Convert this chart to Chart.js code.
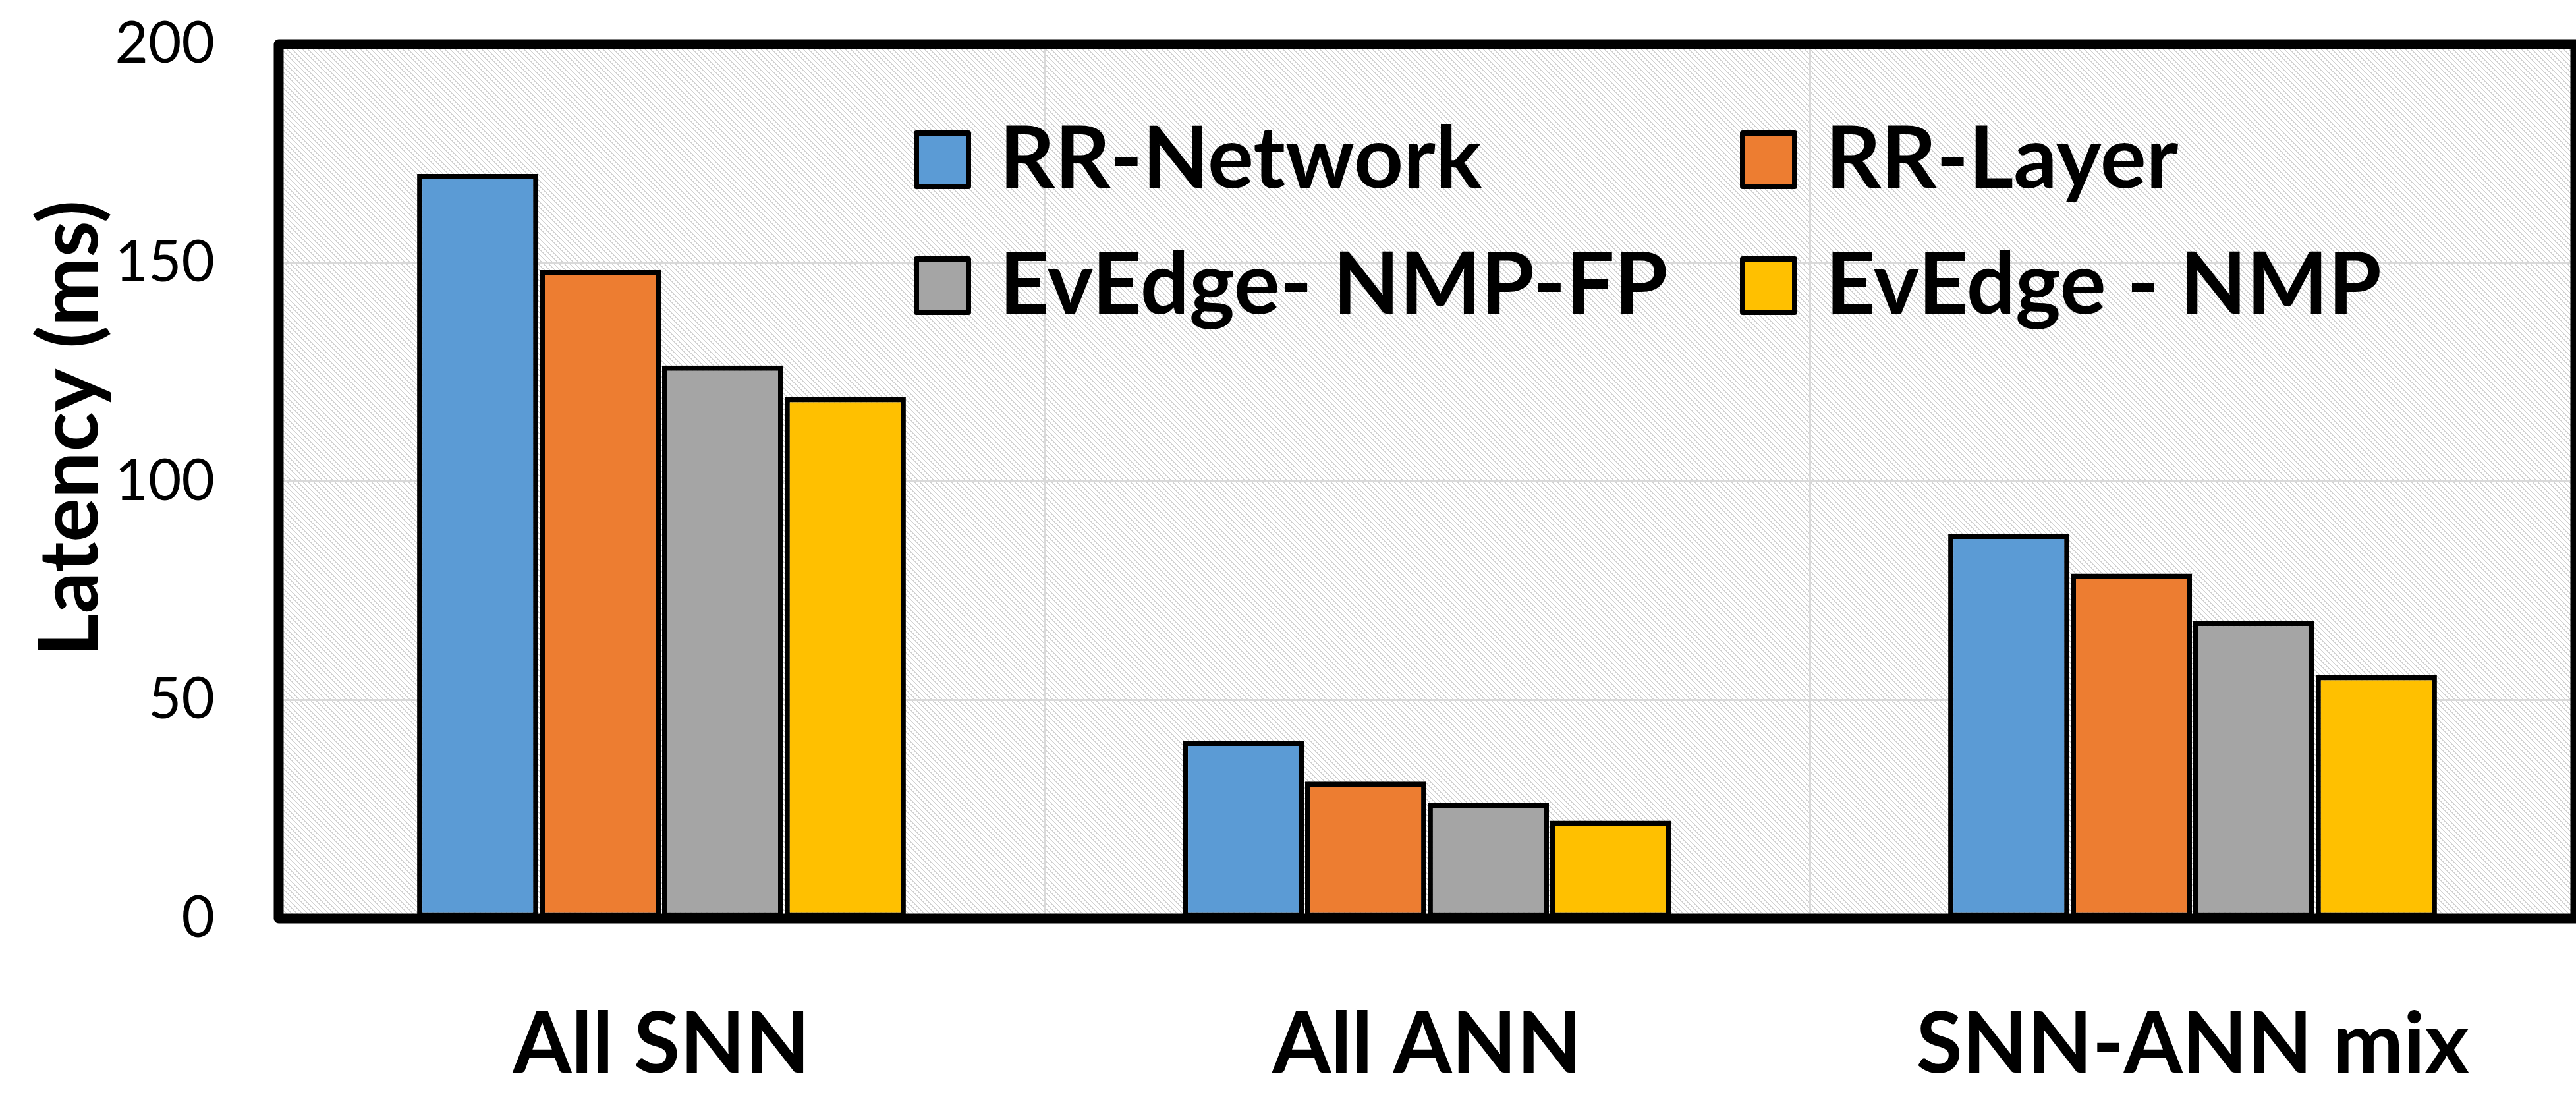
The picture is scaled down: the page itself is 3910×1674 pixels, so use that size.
<!DOCTYPE html>
<html><head><meta charset="utf-8">
<script src="https://cdn.jsdelivr.net/npm/chart.js@4.4.1/dist/chart.umd.min.js"></script>
<style>html,body{margin:0;padding:0;background:#fff;overflow:hidden}#wrap{width:3910px;height:1674px;position:relative}</style>
</head><body><div id="wrap"><canvas id="c" width="3910" height="1674"></canvas></div>
<script>
// ---- data ----
const categories = ['All SNN', 'All ANN', 'SNN-ANN mix'];
const seriesNames = ['RR-Network', 'RR-Layer', 'EvEdge- NMP-FP', 'EvEdge - NMP'];
const rrNetwork   = [170.3, 40.7, 88.0];
const rrLayer     = [148.3, 31.3, 78.9];
const evEdgeNmpFp = [126.5, 26.4, 68.1];
const evEdgeNmp   = [119.3, 22.4, 55.7];
const yTicks = [0, 50, 100, 150, 200];
const yAxisTitle = 'Latency (ms)';
const seriesColors = ['#5B9BD5', '#ED7D31', '#A5A5A5', '#FFC000'];

// ---- styling helpers ----
const FONT = 'Lato, "Open Sans", sans-serif';
function fitSize(text, weight, target) {
  const c = document.createElement('canvas').getContext('2d');
  c.font = weight + ' 100px ' + FONT;
  return 100 * target / c.measureText(text).width;
}
const catSize = Math.min(132, fitSize('SNN-ANN mix', 'bold', 839));
const legendSize = Math.min(132, fitSize('RR-Network', 'bold', 732));
const titleSize = Math.min(125, fitSize(yAxisTitle, 'bold', 704));
const tickSize = 87;

// hatch pattern (light downward diagonal)
const pc = document.createElement('canvas'); pc.width = 8; pc.height = 8;
const pctx = pc.getContext('2d');
pctx.fillStyle = '#ffffff'; pctx.fillRect(0, 0, 8, 8);
pctx.fillStyle = '#d2d2d2';
for (let y = 0; y < 8; y++) { for (let k = 0; k < 2; k++) pctx.fillRect((y + k) % 8, y, 1, 1); }

const values = [rrNetwork, rrLayer, evEdgeNmpFp, evEdgeNmp];
const datasets = seriesNames.map((name, i) => ({
  label: name,
  data: values[i],
  backgroundColor: seriesColors[i],
  borderColor: '#000000',
  borderWidth: 8,
  borderSkipped: false,
  categoryPercentage: 0.64,
  barPercentage: 0.99
}));

const decorPlugin = {
  id: 'decor',
  beforeDraw(chart) {
    const ctx = chart.ctx, a = chart.chartArea;
    ctx.save();
    ctx.fillStyle = '#ffffff';
    ctx.fillRect(0, 0, chart.width, chart.height);
    ctx.fillStyle = ctx.createPattern(pc, 'repeat');
    ctx.fillRect(a.left, a.top, a.right - a.left, a.bottom - a.top);
    ctx.restore();
  },
  afterDatasetsDraw(chart) {
    const ctx = chart.ctx, a = chart.chartArea;
    ctx.save();
    ctx.strokeStyle = '#000000';
    ctx.lineWidth = 15;
    ctx.lineJoin = 'round';
    ctx.strokeRect(a.left, a.top, a.right - a.left, a.bottom - a.top);
    ctx.restore();
  },
  afterDraw(chart) {
    const ctx = chart.ctx;
    ctx.save();
    // y-axis title
    ctx.translate(148, 650);
    ctx.rotate(-Math.PI / 2);
    ctx.font = 'bold ' + titleSize + 'px ' + FONT;
    ctx.fillStyle = '#000';
    ctx.textAlign = 'center';
    ctx.textBaseline = 'alphabetic';
    ctx.fillText(yAxisTitle, 0, 0);
    ctx.restore();
    // legend (2 x 2 grid)
    const colX = [1387, 2641], rowY = [198, 389];
    ctx.save();
    ctx.font = 'bold ' + legendSize + 'px ' + FONT;
    ctx.textBaseline = 'alphabetic';
    ctx.textAlign = 'left';
    chart.data.datasets.forEach((ds, i) => {
      const x = colX[i % 2], y = rowY[Math.floor(i / 2)];
      ctx.fillStyle = ds.backgroundColor;
      ctx.fillRect(x + 4, y + 4, 79, 81);
      ctx.strokeStyle = '#000';
      ctx.lineWidth = 8;
      ctx.lineJoin = 'round';
      ctx.strokeRect(x + 4, y + 4, 79, 81);
      ctx.fillStyle = '#000';
      ctx.fillText(ds.label, x + 130, y + 87);
    });
    ctx.restore();
  }
};

const xPad = 1628 - 0.3225 * catSize - 1394 - catSize / 2;

new Chart(document.getElementById('c'), {
  type: 'bar',
  data: { labels: categories, datasets: datasets },
  options: {
    responsive: false,
    devicePixelRatio: 1,
    animation: false,
    layout: { padding: { top: 67, right: 1, left: 0, bottom: 0 } },
    plugins: { legend: { display: false }, tooltip: { enabled: false } },
    scales: {
      x: {
        grid: { color: '#d9d9d9', lineWidth: 3, drawTicks: false, offset: true },
        border: { display: false },
        ticks: { color: '#000', padding: xPad, font: { family: FONT, weight: 'bold', size: catSize, lineHeight: 1 } },
        afterFit(s) { s.height = 280; }
      },
      y: {
        min: 0, max: 200,
        afterBuildTicks(s) { s.ticks = yTicks.map(v => ({ value: v })); },
        grid: { color: '#d9d9d9', lineWidth: 3, drawTicks: true, tickLength: 97, tickColor: 'rgba(0,0,0,0)' },
        border: { display: false },
        ticks: { color: '#000', padding: 0, font: { family: FONT, size: tickSize, lineHeight: 1 } },
        afterFit(s) { s.width = 423; }
      }
    }
  },
  plugins: [decorPlugin]
});
</script></body></html>
